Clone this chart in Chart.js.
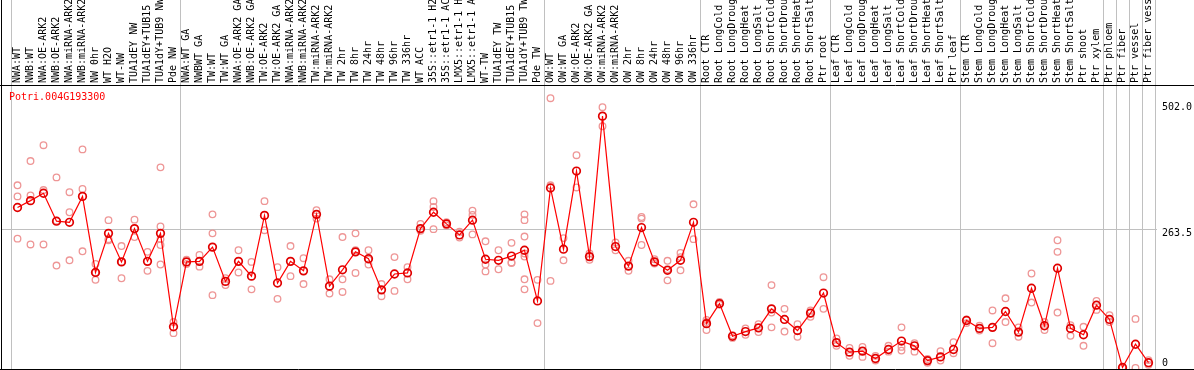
<!DOCTYPE html>
<html>
<head>
<meta charset="utf-8">
<script src="https://cdn.jsdelivr.net/npm/chart.js@4"></script>
<style>
  html, body { margin: 0; padding: 0; background: #fff; }
  #wrap { width: 1194px; height: 370px; }
</style>
</head>
<body>
<div id="wrap"><canvas id="exprChart" width="1194" height="370"></canvas></div>
<script>
// 유전자 이름과 샘플 라벨
const geneId = "Potri.004G193300";

const labels = [
  "NWA:WT", "NWB:WT", "NWA:OE-ARK2", "NWB:OE-ARK2", "NWA:miRNA-ARK2", "NWB:miRNA-ARK2",
  "NW 0hr", "WT H2O", "WT-NW", "TUA1dEY NW", "TUA1dEY+TUB15 NW", "TUA1dY+TUB9 NW", "Pde NW",
  "NWA:WT GA", "NWBWT GA", "TW:WT", "TW:WT GA", "NWA:OE-ARK2 GA", "NWB:OE-ARK2 GA",
  "TW:OE-ARK2", "TW:OE-ARK2 GA", "NWA:miRNA-ARK2 GA", "NWB:miRNA-ARK2 GA", "TW:miRNA-ARK2",
  "TW:miRNA-ARK2 GA", "TW 2hr", "TW 8hr", "TW 24hr", "TW 48hr", "TW 96hr", "TW 336hr",
  "WT ACC", "35S::etr1-1 H2O", "35S::etr1-1 ACC", "LMX5::etr1-1 H2O", "LMX5::etr1-1 ACC",
  "WT-TW", "TUA1dEY TW", "TUA1dEY+TUB15 TW", "TUA1dY+TUB9 TW", "Pde TW",
  "OW:WT", "OW:WT GA", "OW:OE-ARK2", "OW:OE-ARK2 GA", "OW:miRNA-ARK2", "OW:miRNA-ARK2 GA",
  "OW 2hr", "OW 8hr", "OW 24hr", "OW 48hr", "OW 96hr", "OW 336hr",
  "Root CTR", "Root LongCold", "Root LongDrought", "Root LongHeat", "Root LongSalt",
  "Root ShortCold", "Root ShortDrought", "Root ShortHeat", "Root ShortSalt", "Ptr root",
  "Leaf CTR", "Leaf LongCold", "Leaf LongDrought", "Leaf LongHeat", "Leaf LongSalt",
  "Leaf ShortCold", "Leaf ShortDrought", "Leaf ShortHeat", "Leaf ShortSalt", "Ptr leaf",
  "Stem CTR", "Stem LongCold", "Stem LongDrought", "Stem LongHeat", "Stem LongSalt",
  "Stem ShortCold", "Stem ShortDrought", "Stem ShortHeat", "Stem ShortSalt", "Ptr shoot",
  "Ptr xylem", "Ptr phloem", "Ptr fiber", "Ptr vessel", "Ptr fiber vessel"
];

// 평균 발현값
const means = [
  304, 317, 331, 278, 276, 325, 181, 255, 201, 264, 202, 255, 78,
  201, 202, 229, 164, 202, 174, 289, 161, 202, 184, 291, 155, 186, 220, 207,
  148, 178, 180, 264, 295, 273, 252, 280, 206, 204, 212, 223, 127,
  341, 225, 373, 211, 477, 230, 193, 266, 201, 185, 204, 276,
  84, 122, 60, 69, 76, 112, 92, 71, 104, 142,
  48, 30, 32, 18, 35, 51, 42, 14, 21, 35,
  90, 75, 77, 107, 68, 151, 80, 189, 75, 63, 119,
  92, 1, 45, 10
];

// 반복 측정값
const reps = [
  [346, 325, 245], [392, 327, 234], [422, 337, 234], [361, 279, 194], [333, 295, 204],
  [414, 339, 221], [197, 181, 167], [280, 244, 242], [231, 201, 170], [281, 248],
  [220, 184], [380, 268, 244, 233, 196], [87, 66],
  [205, 197], [214, 192], [291, 255, 138], [170, 157], [223, 181], [201, 149],
  [316, 261], [191, 131], [231, 174], [208, 159], [299, 283], [168, 141],
  [248, 168, 144], [255, 223, 180], [223, 205, 196], [159, 136], [210, 146], [191, 168],
  [273, 260], [316, 305, 263], [276, 270], [258, 247], [298, 290, 253],
  [240, 196, 183], [223, 187], [237, 199, 200], [291, 280, 249, 217, 211, 168, 149], [167, 85],
  [511, 346, 165], [246, 204], [403, 342], [217, 205], [494, 458], [238, 223],
  [203, 184], [286, 283, 233], [206, 198], [203, 187, 166], [218, 210, 185], [310, 244],
  [91, 87, 72], [125, 120], [62, 57], [75, 63], [83, 68], [157, 105, 77],
  [112, 69], [83, 59], [109, 97], [172, 112],
  [56, 42], [38, 23], [40, 21], [23, 14], [42, 31], [77, 40, 33],
  [47, 31], [17, 10], [32, 14], [49, 28],
  [92, 85], [80, 71], [109, 47], [132, 87], [77, 59], [179, 124],
  [87, 72], [242, 220, 105], [81, 61], [78, 42], [127, 110],
  [100, 87], [0, 2], [93, 0], [15, 6]
];

// 그룹 경계 (라벨 인덱스)
const groupBreaks = [0, 13, 41, 53, 63, 73, 84, 85, 86, 87, 88];

// y축 눈금
const yTicks = [0, 263.5, 502.0];
const gridValue = 263.5;

const FONT = "DejaVu Sans Mono";

// 반복값을 점 데이터로 변환 (x는 라벨 문자열)
const repPoints = [];
reps.forEach((list, i) => {
  list.forEach((v) => repPoints.push({ x: labels[i], y: v }));
});

// 구분선, 테두리, 제목 그리기
const framePlugin = {
  id: "frame",
  beforeDatasetsDraw(chart) {
    const { ctx, chartArea, scales } = chart;
    const bottom = chartArea.bottom + 1;
    ctx.save();
    ctx.strokeStyle = "#c0c0c0";
    ctx.lineWidth = 1;
    groupBreaks.forEach((idx) => {
      const px = Math.round(scales.x.getPixelForValue(idx - 0.5)) + 0.5;
      ctx.beginPath();
      ctx.moveTo(px, 0);
      ctx.lineTo(px, bottom);
      ctx.stroke();
    });
    const gy = Math.round(scales.y.getPixelForValue(gridValue)) + 0.5;
    ctx.beginPath();
    ctx.moveTo(1, gy);
    ctx.lineTo(chartArea.right + 2, gy);
    ctx.stroke();
    ctx.restore();
  },
  afterDraw(chart) {
    const { ctx, chartArea, width } = chart;
    const bottom = chartArea.bottom + 1.5;
    ctx.save();
    ctx.strokeStyle = "#000";
    ctx.lineWidth = 1;
    ctx.beginPath();
    ctx.moveTo(0, chartArea.top + 0.5);
    ctx.lineTo(width, chartArea.top + 0.5);
    ctx.moveTo(0, bottom);
    ctx.lineTo(width, bottom);
    ctx.moveTo(1.5, 0);
    ctx.lineTo(1.5, bottom);
    ctx.stroke();
    ctx.fillStyle = "#ff0000";
    ctx.font = "10px '" + FONT + "'";
    ctx.textBaseline = "middle";
    ctx.textAlign = "left";
    ctx.fillText(geneId, chartArea.left - 2, chartArea.top + 12);
    ctx.restore();
  },
};

const chartCtx = document.getElementById("exprChart").getContext("2d");
const chart = new Chart(chartCtx, {
  type: "line",
  data: {
    labels: labels,
    datasets: [
      {
        label: "mean",
        data: means,
        borderColor: "#ff0000",
        borderWidth: 1.2,
        pointRadius: 3.8,
        pointBorderWidth: 1.7,
        pointBorderColor: "#e00000",
        pointBackgroundColor: "rgba(0,0,0,0)",
        tension: 0,
        clip: false,
        order: 0,
      },
      {
        label: "replicates",
        data: repPoints,
        showLine: false,
        pointRadius: 3.3,
        pointBorderWidth: 1.3,
        pointBorderColor: "rgb(238,150,150)",
        pointBackgroundColor: "rgba(0,0,0,0)",
        clip: false,
        order: 1,
      },
    ],
  },
  options: {
    responsive: false,
    animation: false,
    devicePixelRatio: 1,
    layout: { autoPadding: false, padding: { left: 11, right: 0, top: 0, bottom: 2 } },
    plugins: {
      legend: { display: false },
      tooltip: { enabled: false },
      title: { display: false },
    },
    scales: {
      x: {
        type: "category",
        position: "top",
        offset: true,
        grid: { display: false, drawTicks: false },
        border: { display: false },
        ticks: {
          autoSkip: false,
          minRotation: 90,
          maxRotation: 90,
          padding: 2,
          labelOffset: 12,
          color: "#000",
          font: { family: FONT, size: 10 },
        },
        afterFit(scale) {
          scale.height = 85;
          scale.paddingLeft = 0;
          scale.paddingRight = 0;
        },
      },
      y: {
        position: "right",
        min: 0,
        max: 536,
        grid: { display: false, drawTicks: false },
        border: { display: false },
        afterBuildTicks(scale) {
          scale.ticks = yTicks.map((v) => ({ value: v }));
        },
        ticks: {
          padding: 7,
          color: "#000",
          font: { family: FONT, size: 10, lineHeight: 0.9 },
          callback(v) {
            const s = v === 0 ? "0" : v.toFixed(1);
            return v === 0 ? [s, ""] : ["", s];
          },
        },
        afterFit(scale) {
          scale.width = 39;
          scale.paddingTop = 0;
          scale.paddingBottom = 0;
        },
      },
    },
  },
  plugins: [framePlugin],
});
</script>
</body>
</html>
